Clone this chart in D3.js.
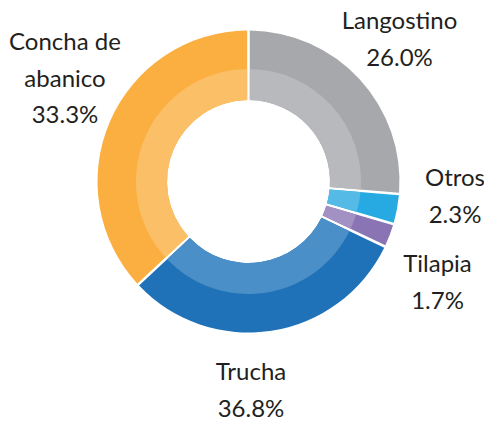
<!DOCTYPE html>
<html>
<head>
<meta charset="utf-8">
<script src="https://cdn.jsdelivr.net/npm/d3@7"></script>
<style>
  html, body { margin: 0; padding: 0; background: #ffffff; }
  svg { display: block; }
</style>
</head>
<body>
<svg id="chart" width="484" height="421"></svg>
<script>
// ---- data ----
const categories = ["Langostino", "Otros", "Tilapia", "Trucha", "Concha de abanico"];
// slice sizes as drawn in the picture (share of the ring, %)
const drawnShares = [26.4, 3.0, 2.3, 31.1, 37.2];
// printed labels
const percentLabels = ["26.0%", "2.3%", "1.7%", "36.8%", "33.3%"];
const nameLines = [["Langostino"], ["Otros"], ["Tilapia"], ["Trucha"], ["Concha de", "abanico"]];

// ---- styles ----
const outerColors = ["#a7a8ab", "#27aae1", "#8a74b4", "#1f72b8", "#fbaf40"];
const innerColors = ["#b8b9bc", "#55bae6", "#a391c4", "#4a8fc7", "#fbbf67"];

// ---- layout ----
const cx = 248.5, cy = 181.5;
const rHole = 81.5, rBand = 112.5, rOuter = 151;
const gap = 2.6;
// label anchor (x of text centre, baseline of first line), per category
const labelPos = {
  "Langostino": [399.5, 29],
  "Otros": [455, 186],
  "Tilapia": [437.5, 272],
  "Trucha": [251, 380],
  "Concha de abanico": [65, 50]
};
const lineH = 36.5;

const svg = d3.select("#chart");
const g = svg.append("g").attr("transform", `translate(${cx},${cy})`);

const pie = d3.pie().sort(null).value(d => d.value).padAngle(gap / rOuter);
const data = categories.map((c, i) => ({ name: c, value: drawnShares[i], i }));
const arcs = pie(data);

const outerArc = d3.arc().innerRadius(rHole).outerRadius(rOuter).padRadius(rOuter);
const innerArc = d3.arc().innerRadius(rHole).outerRadius(rBand).padRadius(rOuter);

g.selectAll("path.outer").data(arcs).join("path")
  .attr("class", "outer")
  .attr("d", outerArc)
  .attr("fill", d => outerColors[d.data.i]);

g.selectAll("path.inner").data(arcs).join("path")
  .attr("class", "inner")
  .attr("d", innerArc)
  .attr("fill", d => innerColors[d.data.i]);

// labels
const lab = svg.append("g")
  .attr("font-family", "Lato, 'Open Sans', sans-serif")
  .attr("font-size", 24)
  .attr("fill", "#231f20")
  .attr("text-anchor", "middle");

categories.forEach((c, i) => {
  const [x, y] = labelPos[c];
  const lines = nameLines[i].concat([percentLabels[i]]);
  const t = lab.append("text").attr("x", x).attr("y", y);
  lines.forEach((l, k) => {
    t.append("tspan").attr("x", x).attr("y", y + k * lineH).text(l);
  });
});
</script>
</body>
</html>
